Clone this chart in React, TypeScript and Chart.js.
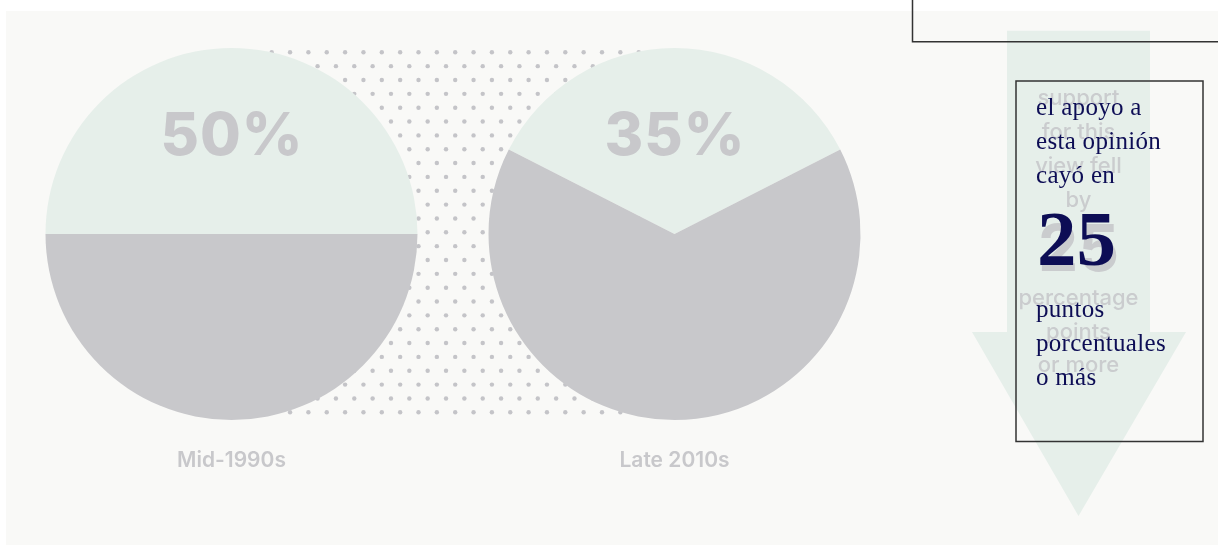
import React, { useEffect, useRef } from "react";
import { Chart, registerables } from "chart.js";

Chart.register(...registerables);

// ---- data ----
const PERIODS = ["Mid-1990s", "Late 2010s"];
const SUPPORT_SHARE = [50, 35];
const OTHER_SHARE = [50, 65];
const PCT_LABELS = ["50%", "35%"];
const SLICE_LABELS = ["Support this view", "Other"];

const ARROW_EN_TOP = ["support", "for this", "view fell", "by"];
const ARROW_EN_NUM = "25";
const ARROW_EN_BOTTOM = ["percentage", "points", "or more"];

const ARROW_ES_TOP = ["el apoyo a", "esta opinión", "cayó en"];
const ARROW_ES_NUM = "25";
const ARROW_ES_BOTTOM = ["puntos", "porcentuales", "o más"];

// ---- layout / style ----
const W = 1218;
const H = 545;
const PIE_CX = [231.5, 674.5];
const PIE_CY = 234;
const PIE_R = 186;
const MINT = "#e6efea";
const GRAY = "#c8c8cb";
const PANEL = "#f9f9f7";
const NAVY = "#0d0d55";

function dotsPlugin() {
  return {
    id: "dotsBg",
    beforeDatasetsDraw(chart: any) {
      const ctx = chart.ctx as CanvasRenderingContext2D;
      ctx.save();
      ctx.fillStyle = "#c4c4c8";
      const dx = 18.35;
      const dy = 13.846;
      for (let r = 0; r < 27; r++) {
        const y = 52.3 + r * dy;
        const x0 = 271.7 + (r % 2) * (dx / 2);
        for (let x = x0; x <= 645; x += dx) {
          ctx.beginPath();
          ctx.arc(x, y, 2.2, 0, Math.PI * 2);
          ctx.fill();
        }
      }
      ctx.restore();
    },
  };
}

function labelPlugin(i: number) {
  return {
    id: "pieLabels" + i,
    afterDatasetsDraw(chart: any) {
      const ctx = chart.ctx as CanvasRenderingContext2D;
      const cx = PIE_CX[i];
      ctx.save();
      ctx.fillStyle = GRAY;
      ctx.textAlign = "center";
      ctx.textBaseline = "alphabetic";
      ctx.font = "800 59px Inter";
      const ls = 1;
      (ctx as any).letterSpacing = ls + "px";
      ctx.fillText(PCT_LABELS[i], cx + ls / 2, 155);
      ctx.font = "600 21px Inter";
      (ctx as any).letterSpacing = "0px";
      ctx.fillText(PERIODS[i], cx, 467);
      ctx.restore();
    },
  };
}

function makeConfig(i: number): any {
  const cx = PIE_CX[i];
  const cy = PIE_CY;
  const r = PIE_R;
  const plugins: any[] = [];
  if (i === 0) plugins.push(dotsPlugin());
  plugins.push(labelPlugin(i));
  return {
    type: "pie",
    data: {
      labels: SLICE_LABELS,
      datasets: [
        {
          data: [SUPPORT_SHARE[i], OTHER_SHARE[i]],
          backgroundColor: [MINT, GRAY],
          borderWidth: 0,
          hoverOffset: 0,
        },
      ],
    },
    options: {
      responsive: false,
      animation: false,
      events: [],
      rotation: -(SUPPORT_SHARE[i] / 100) * 180,
      layout: {
        padding: {
          left: cx - r,
          top: cy - r,
          right: W - cx - r,
          bottom: H - cy - r,
        },
      },
      plugins: {
        legend: { display: false },
        tooltip: { enabled: false },
      },
    },
    plugins,
  };
}

export default function App() {
  const ref1 = useRef<HTMLCanvasElement>(null);
  const ref2 = useRef<HTMLCanvasElement>(null);

  useEffect(() => {
    const charts: Chart[] = [];
    [ref1.current, ref2.current].forEach((cv, i) => {
      if (cv) charts.push(new Chart(cv, makeConfig(i)));
    });
    return () => charts.forEach((c) => c.destroy());
  }, []);

  const canvasStyle: React.CSSProperties = {
    position: "absolute",
    left: 0,
    top: 0,
    width: W,
    height: H,
  };

  const enFont = { fontFamily: "Inter", fontWeight: 500, fontSize: 22 };
  const enTopY = [105, 139, 173, 207];
  const enBottomY = [305, 338.5, 372];
  const esTopY = [115, 149, 183];
  const esBottomY = [317, 351, 385];

  return (
    <div
      style={{
        position: "absolute",
        left: 0,
        top: 0,
        width: W,
        height: H,
        overflow: "hidden",
        background: "#ffffff",
      }}
    >
      <div
        style={{
          position: "absolute",
          left: 6,
          top: 11,
          width: W - 6,
          height: H - 11,
          background: PANEL,
        }}
      />
      <canvas ref={ref1} width={W} height={H} style={canvasStyle} />
      <canvas ref={ref2} width={W} height={H} style={canvasStyle} />
      <svg
        width={W}
        height={H}
        style={{ position: "absolute", left: 0, top: 0 }}
      >
        <polygon
          points="1007,30.7 1150,30.7 1150,332 1186,332 1078.5,516 972,332 1007,332"
          fill={MINT}
        />
        <g fill="#c4c4c8" opacity={0.8} textAnchor="middle">
          {ARROW_EN_TOP.map((t, k) => (
            <text key={"et" + k} x={1078.5} y={enTopY[k]} {...enFont}>
              {t}
            </text>
          ))}
          <text
            x={1078.5}
            y={271}
            fontFamily="Inter"
            fontWeight={700}
            fontSize={64}
          >
            {ARROW_EN_NUM}
          </text>
          {ARROW_EN_BOTTOM.map((t, k) => (
            <text key={"eb" + k} x={1078.5} y={enBottomY[k]} {...enFont}>
              {t}
            </text>
          ))}
        </g>
        <g fill={NAVY} fontFamily="'Liberation Serif', serif">
          {ARROW_ES_TOP.map((t, k) => (
            <text
              key={"st" + k}
              x={1036}
              y={esTopY[k]}
              fontSize={25}
              letterSpacing={0.3}
            >
              {t}
            </text>
          ))}
          <text x={1037} y={265} fontSize={79} fontWeight={700}>
            {ARROW_ES_NUM}
          </text>
          {ARROW_ES_BOTTOM.map((t, k) => (
            <text
              key={"sb" + k}
              x={1036}
              y={esBottomY[k]}
              fontSize={25}
              letterSpacing={0.3}
            >
              {t}
            </text>
          ))}
        </g>
        <rect
          x={1016}
          y={81}
          width={187}
          height={360.5}
          fill="none"
          stroke="#333"
          strokeWidth={1.5}
        />
        <path
          d="M 912.5 -2 V 41.7 H 1222"
          fill="none"
          stroke="#333"
          strokeWidth={1.5}
        />
      </svg>
    </div>
  );
}
